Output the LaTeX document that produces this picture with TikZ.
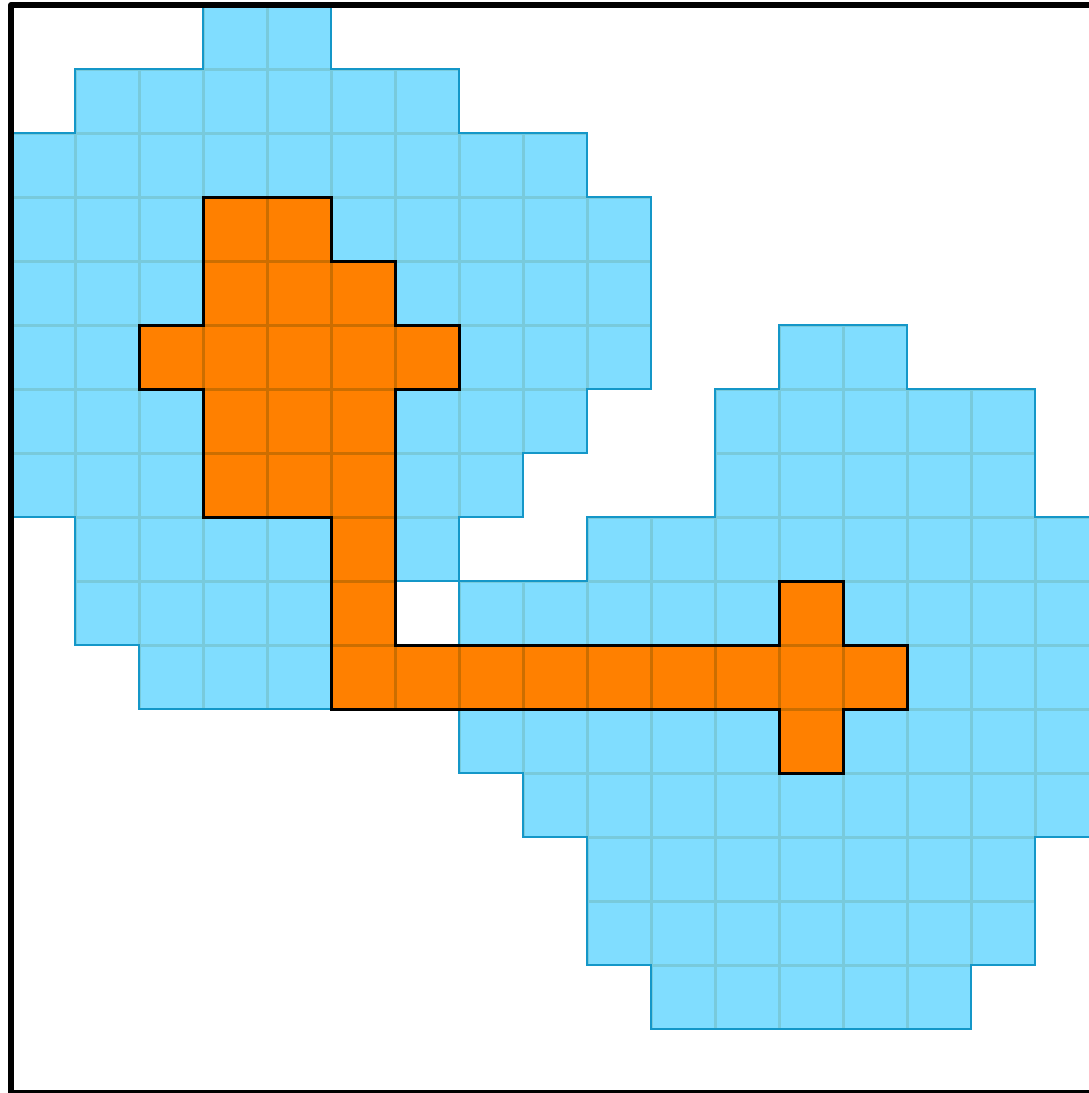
\documentclass[tikz,border=0pt]{standalone}
\definecolor{bluefill}{HTML}{80DDFF}
\definecolor{bluegrid}{HTML}{78CADC}
\definecolor{blueedge}{HTML}{1497C8}
\definecolor{orangefill}{HTML}{FF8000}
\definecolor{orangegrid}{HTML}{CC6E00}
\begin{document}
\begin{tikzpicture}[x=64pt,y=-64pt,
  bluecell/.style={fill=bluefill},
  bluegridline/.style={draw=bluegrid, line width=3pt},
  blueoutline/.style={draw=blueedge, line width=1.6pt},
  orangecell/.style={fill=orangefill},
  orangegridline/.style={draw=orangegrid, line width=3pt},
  orangeoutline/.style={draw=black, line width=3pt},
  frameline/.style={draw=black, line width=6pt, line join=round}]
\useasboundingbox (-0.171875,-0.078125) rectangle (16.84375,17);
\clip (-0.171875,-0.078125) rectangle (16.84375,17);
% blue region 1
\begin{scope}
  \clip (3,0)--(5,0)--(5,1)--(7,1)--(7,2)--(9,2)--(9,3)--(10,3)--(10,6)--(9,6)--(9,7)--(8,7)--(8,8)--(7,8)--(7,9)--(6,9)--(6,11)--(2,11)--(2,10)--(1,10)--(1,8)--(0,8)--(0,2)--(1,2)--(1,1)--(3,1)--cycle;
  \foreach \r/\a/\b in {0/3/4,1/1/6,2/0/8,3/0/9,4/0/9,5/0/9,6/0/8,7/0/7,8/1/6,9/1/5,10/2/5}
    \foreach \c in {\a,...,\b}
      \fill[bluecell] (\c,\r) rectangle ++(1,1);
  \foreach \r/\a/\b in {0/3/4,1/1/6,2/0/8,3/0/9,4/0/9,5/0/9,6/0/8,7/0/7,8/1/6,9/1/5,10/2/5}
    \foreach \c in {\a,...,\b}
      \draw[bluegridline] (\c,\r) rectangle ++(1,1);
\end{scope}
\draw[blueoutline] (3,0)--(5,0)--(5,1)--(7,1)--(7,2)--(9,2)--(9,3)--(10,3)--(10,6)--(9,6)--(9,7)--(8,7)--(8,8)--(7,8)--(7,9)--(6,9)--(6,11)--(2,11)--(2,10)--(1,10)--(1,8)--(0,8)--(0,2)--(1,2)--(1,1)--(3,1)--cycle;
% blue region 2
\begin{scope}
  \clip (12,5)--(14,5)--(14,6)--(16,6)--(16,8)--(17,8)--(17,13)--(16,13)--(16,15)--(15,15)--(15,16)--(10,16)--(10,15)--(9,15)--(9,13)--(8,13)--(8,12)--(7,12)--(7,9)--(9,9)--(9,8)--(11,8)--(11,6)--(12,6)--cycle;
  \foreach \r/\a/\b in {5/12/13,6/11/15,7/11/15,8/9/16,9/7/16,10/7/16,11/7/16,12/8/16,13/9/15,14/9/15,15/10/14}
    \foreach \c in {\a,...,\b}
      \fill[bluecell] (\c,\r) rectangle ++(1,1);
  \foreach \r/\a/\b in {5/12/13,6/11/15,7/11/15,8/9/16,9/7/16,10/7/16,11/7/16,12/8/16,13/9/15,14/9/15,15/10/14}
    \foreach \c in {\a,...,\b}
      \draw[bluegridline] (\c,\r) rectangle ++(1,1);
\end{scope}
\draw[blueoutline] (12,5)--(14,5)--(14,6)--(16,6)--(16,8)--(17,8)--(17,13)--(16,13)--(16,15)--(15,15)--(15,16)--(10,16)--(10,15)--(9,15)--(9,13)--(8,13)--(8,12)--(7,12)--(7,9)--(9,9)--(9,8)--(11,8)--(11,6)--(12,6)--cycle;
% orange shape
\begin{scope}
  \clip (3,3)--(5,3)--(5,4)--(6,4)--(6,5)--(7,5)--(7,6)--(6,6)--(6,10)--(12,10)--(12,9)--(13,9)--(13,10)--(14,10)--(14,11)--(13,11)--(13,12)--(12,12)--(12,11)--(5,11)--(5,8)--(3,8)--(3,6)--(2,6)--(2,5)--(3,5)--cycle;
  \foreach \r/\a/\b in {3/3/4,4/3/5,5/2/6,6/3/5,7/3/5,8/5/5,9/5/5,9/12/12,10/5/13,11/12/12}
    \foreach \c in {\a,...,\b}
      \fill[orangecell] (\c,\r) rectangle ++(1,1);
  \foreach \r/\a/\b in {3/3/4,4/3/5,5/2/6,6/3/5,7/3/5,8/5/5,9/5/5,9/12/12,10/5/13,11/12/12}
    \foreach \c in {\a,...,\b}
      \draw[orangegridline] (\c,\r) rectangle ++(1,1);
\end{scope}
\draw[orangeoutline] (3,3)--(5,3)--(5,4)--(6,4)--(6,5)--(7,5)--(7,6)--(6,6)--(6,10)--(12,10)--(12,9)--(13,9)--(13,10)--(14,10)--(14,11)--(13,11)--(13,12)--(12,12)--(12,11)--(5,11)--(5,8)--(3,8)--(3,6)--(2,6)--(2,5)--(3,5)--cycle;
% frame
\draw[frameline] (0,0) rectangle (17,17);
\end{tikzpicture}
\end{document}
